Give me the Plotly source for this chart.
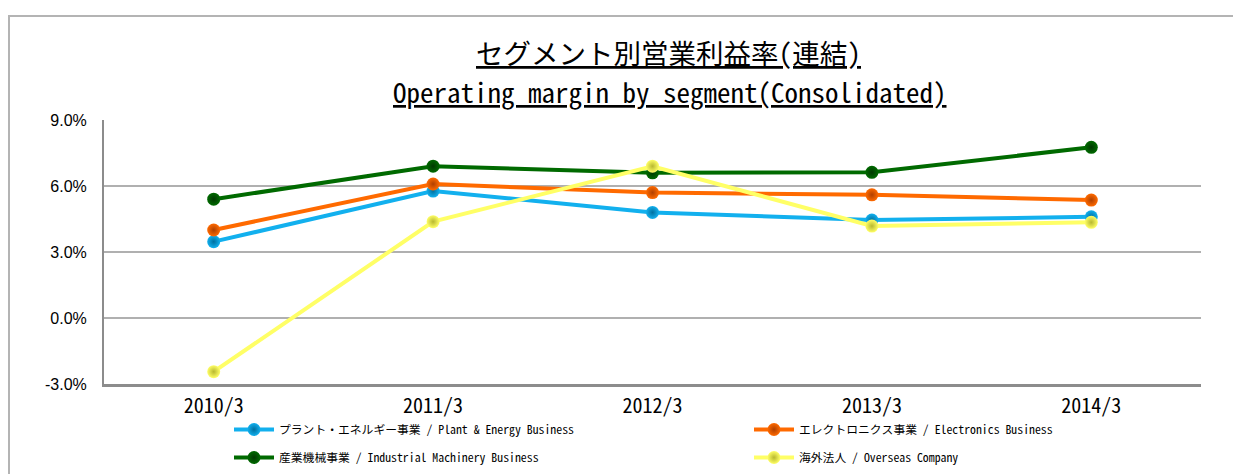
import plotly.graph_objects as go

categories = ["2010/3", "2011/3", "2012/3", "2013/3", "2014/3"]

plant_energy = [3.47, 5.77, 4.80, 4.45, 4.60]
electronics = [4.00, 6.09, 5.70, 5.60, 5.36]
industrial = [5.40, 6.90, 6.60, 6.62, 7.76]
overseas = [-2.44, 4.38, 6.90, 4.18, 4.35]

series_names = [
    "プラント・エネルギー事業 / Plant & Energy Business",
    "エレクトロニクス事業 / Electronics Business",
    "産業機械事業 / Industrial Machinery Business",
    "海外法人 / Overseas Company",
]
series_values = [plant_energy, electronics, industrial, overseas]
line_colors = ["#12B0EE", "#FF6A00", "#006A00", "#FFFF66"]
edge_colors = ["#0070A0", "#B04000", "#003800", "#B8B830"]
legend_ids = ["legend", "legend2", "legend", "legend2"]

title_line1 = "セグメント別営業利益率(連結)"
title_line2 = "Operating margin by segment(Consolidated)"

y_ticks = [-3, 0, 3, 6, 9]
y_tick_labels = ["-3.0%", "0.0%", "3.0%", "6.0%", "9.0%"]

JP_FONT = "Noto Sans Mono CJK JP, Noto Sans CJK JP, Liberation Sans Narrow, sans-serif"

# page body has an 8px margin; figure coordinates are screen coordinates minus OFF
OFF = 8
W, H = 1233, 466
ML, MR, MT, MB = 96, 40, 112, 90
PW, PH = W - ML - MR, H - MT - MB


def sx(t):
    return (t - OFF - ML) / PW


def sy(t):
    return (MT + PH - (t - OFF)) / PH


fig = go.Figure()
for i, (name, vals) in enumerate(zip(series_names, series_values)):
    fig.add_trace(go.Scatter(
        x=categories, y=vals, name=name, mode="lines+markers",
        line=dict(color=line_colors[i], width=4),
        marker=dict(size=13, color=line_colors[i],
                    gradient=dict(type="radial", color=edge_colors[i]),
                    line=dict(width=0)),
        legend=legend_ids[i], legendgroup=f"g{i}",
    ))

legend_common = dict(xanchor="left", yanchor="top", xref="container", yref="container",
                     orientation="v", traceorder="grouped", tracegroupgap=9,
                     font=dict(family=JP_FONT, size=11.8, color="#000"),
                     bgcolor="rgba(0,0,0,0)", itemwidth=40)

fig.update_layout(
    width=W, height=H, autosize=False,
    margin=dict(l=ML, r=MR, t=MT, b=MB, autoexpand=False),
    paper_bgcolor="white", plot_bgcolor="white",
    showlegend=True,
    legend=dict(x=(229 - OFF) / W, y=1 - (415 - OFF) / H, **legend_common),
    legend2=dict(x=(749 - OFF) / W, y=1 - (415 - OFF) / H, **legend_common),
    xaxis=dict(type="category", range=[-0.5, len(categories) - 0.5],
               showgrid=False, showline=True,
               linecolor="#8c8c8c", linewidth=3, ticks="", tickangle=0,
               tickfont=dict(family=JP_FONT, size=20, color="#000"),
               ticklabelstandoff=2, automargin=False),
    yaxis=dict(range=[-3, 9], tickvals=y_ticks, ticktext=y_tick_labels,
               showgrid=True, gridcolor="#b0b0b0", gridwidth=1.5,
               zeroline=False, showline=True, linecolor="#8c8c8c", linewidth=2,
               ticks="", tickfont=dict(family="Liberation Sans, Arial, sans-serif", size=16, color="#000"),
               ticklabelstandoff=12, automargin=False),
    annotations=[
        dict(text=f"<u>{title_line1}</u>", xref="paper", yref="paper",
             x=sx(668), y=sy(52), xanchor="center", yanchor="middle",
             showarrow=False, font=dict(family=JP_FONT, size=27.5, color="#000")),
        dict(text=f"<u>{title_line2}</u>", xref="paper", yref="paper",
             x=sx(670), y=sy(91), xanchor="center", yanchor="middle",
             showarrow=False, font=dict(family=JP_FONT, size=27, color="#000")),
    ],
    shapes=[
        dict(type="rect", xref="paper", yref="paper",
             x0=sx(OFF + 1), x1=sx(1270), y0=sy(500), y1=sy(OFF + 8),
             line=dict(color="#b4b4b4", width=2), layer="below"),
    ],
)

fig.write_html("out.html")
